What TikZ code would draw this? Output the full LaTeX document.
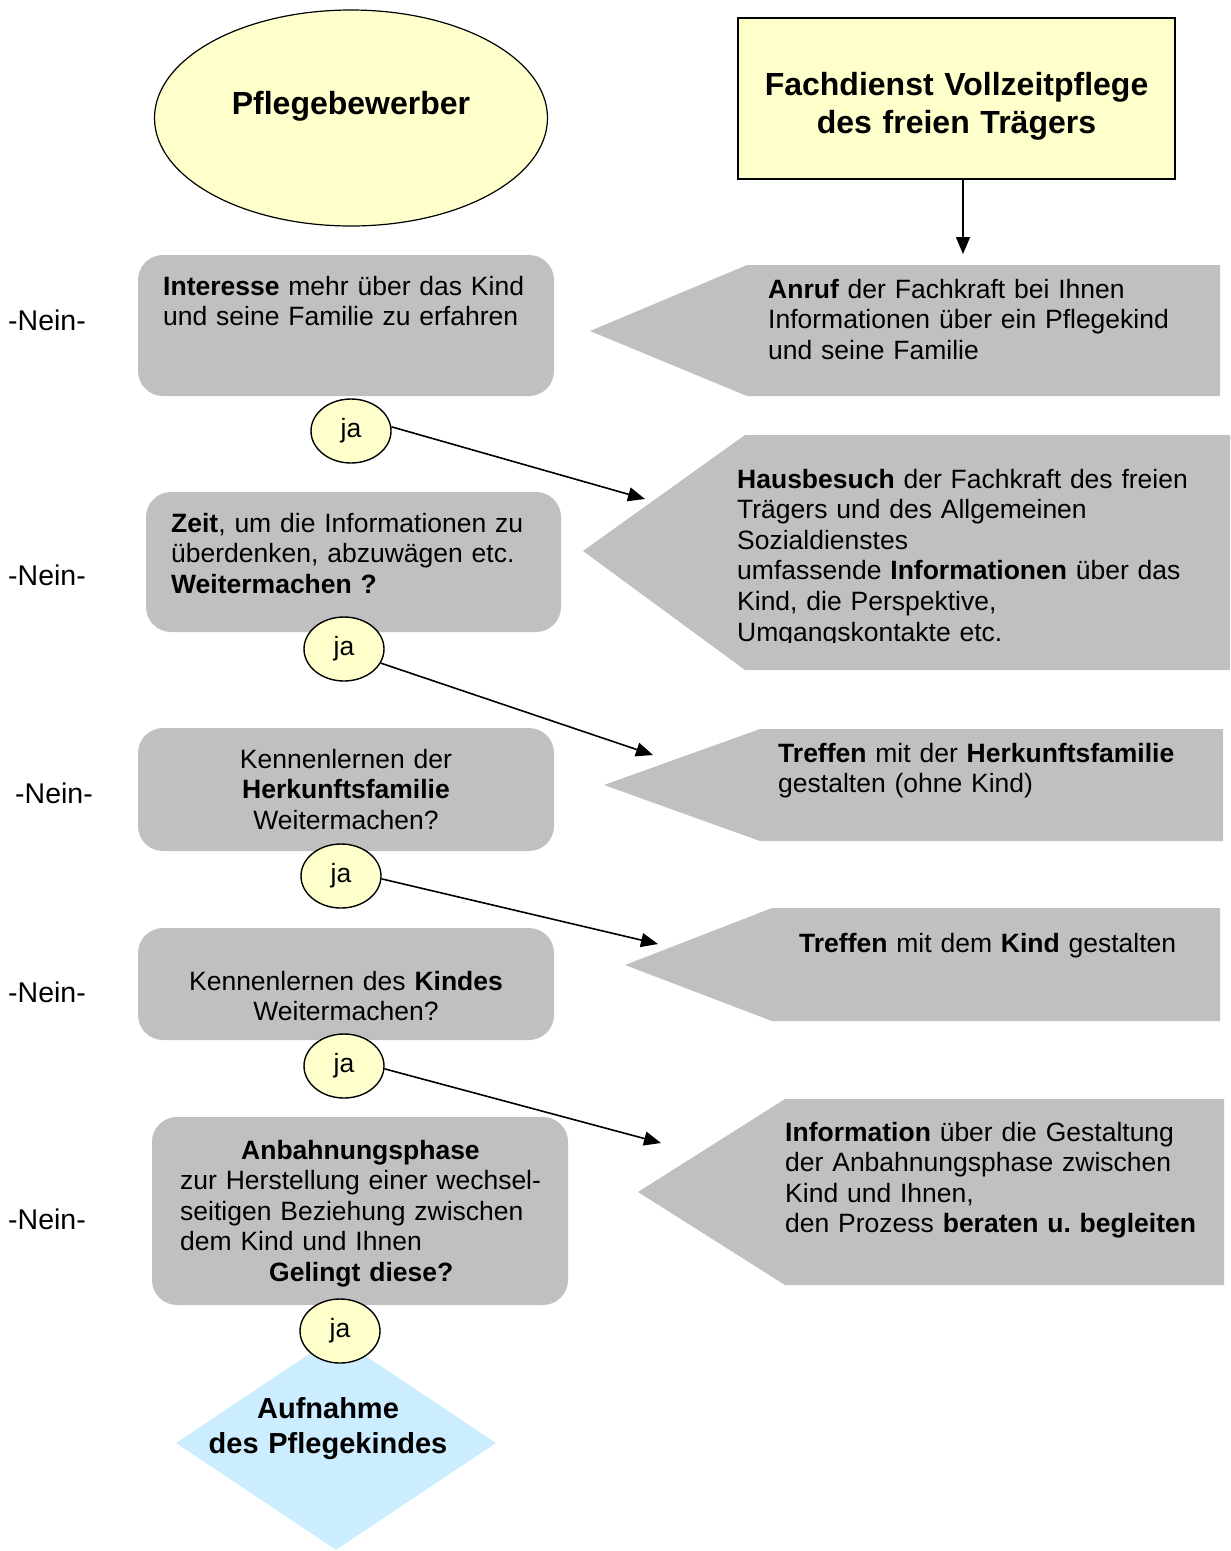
\documentclass[tikz,border=0pt]{standalone}
\usepackage{fontspec}
\setmainfont{Liberation Sans}
\usetikzlibrary{arrows.meta,shapes.geometric}
\definecolor{boxgray}{HTML}{C0C0C0}
\definecolor{paleyellow}{HTML}{FFFFCC}
\definecolor{paleblue}{HTML}{CCECFF}
\begin{document}
\frenchspacing
\begin{tikzpicture}[x=1pt,y=-1pt,
  txt/.style={font=\fontsize{26.5}{30.6}\selectfont, inner sep=0pt, align=left, anchor=base west, text width=470pt},
  ctxt/.style={font=\fontsize{26.5}{30.6}\selectfont, inner sep=0pt, align=center, anchor=base, text width=400pt},
  lbox/.style={fill=boxgray, rounded corners=25pt, draw=none, inner sep=0pt},
  jaell/.style={ellipse, draw=black, line width=1.4pt, fill=paleyellow, minimum width=80pt, minimum height=64pt, inner sep=0pt, font=\fontsize{26.5}{30.6}\selectfont},
  arr/.style={line width=1.6pt, -{Triangle[length=17pt,width=14pt]}},
  pent/.style={fill=boxgray, draw=none},
  nein/.style={font=\fontsize{28.5}{32}\selectfont, inner sep=0pt, anchor=base west},
]
\useasboundingbox (0,0) rectangle (1231,1551);

% header
\node[ellipse, draw=black, line width=1.2pt, fill=paleyellow, minimum width=393pt, minimum height=216pt, inner sep=0pt] (pb) at (351,118) {};
\node[font=\fontsize{32}{38}\selectfont\bfseries, inner sep=0pt, anchor=base] (pbt) at (351,114.5) {Pflegebewerber};
\node[draw=black, line width=1.2pt, fill=paleyellow, minimum width=437pt, minimum height=161pt, inner sep=0pt] (fd) at (956.5,98.5) {};
\node[font=\fontsize{32}{38}\selectfont\bfseries, inner sep=0pt, anchor=base, align=center, text width=430pt] (fdt) at (956.5,95.5) {Fachdienst Vollzeitpflege\\des freien Trägers};
\coordinate (topend) at (963,254);
\draw[arr] (fd.south -| topend) -- (topend);

% right pentagons
\fill[pent] (590,331) -- (747,265) -- (1220,265) -- (1220,396) -- (747,396) -- cycle;
\node[txt] (p1) at (768,298) {\textbf{Anruf} der Fachkraft bei Ihnen\\Informationen über ein Pflegekind\\und seine Familie};

\fill[pent] (583,551) -- (745,435) -- (1230,435) -- (1230,670) -- (745,670) -- cycle;
\begin{scope}
\clip (700,440) rectangle (1230,642);
\node[txt] (p2) at (737,488) {\textbf{Hausbesuch} der Fachkraft des freien\\Trägers und des Allgemeinen\\Sozialdienstes\\umfassende \textbf{Informationen} über das\\Kind, die Perspektive,\\Umgangskontakte etc.};
\end{scope}

\fill[pent] (604,785) -- (760,729) -- (1223,729) -- (1223,841) -- (760,841) -- cycle;
\node[txt] (p3) at (778,762) {\textbf{Treffen} mit der \textbf{Herkunftsfamilie}\\gestalten (ohne Kind)};

\fill[pent] (625,965) -- (772,908) -- (1220,908) -- (1220,1021) -- (772,1021) -- cycle;
\node[txt] (p4) at (799,952) {\textbf{Treffen} mit dem \textbf{Kind} gestalten};

\fill[pent] (638,1192) -- (785,1099) -- (1224,1099) -- (1224,1285) -- (785,1285) -- cycle;
\node[txt] (p5) at (785,1141) {\textbf{Information} über die Gestaltung\\der Anbahnungsphase zwischen\\Kind und Ihnen,\\den Prozess \textbf{beraten u. begleiten}};

% left boxes
\node[lbox, minimum width=416pt, minimum height=141pt] (b1) at (346,325.5) {};
\node[txt] (b1t) at (163,295) {\textbf{Interesse} mehr über das Kind\\und seine Familie zu erfahren};

\node[lbox, minimum width=415pt, minimum height=140pt] (b2) at (353.5,562) {};
\node[txt] (b2t) at (171,532) {\textbf{Zeit}, um die Informationen zu\\überdenken, abzuwägen etc.\\\textbf{Weitermachen ?}};

\node[lbox, minimum width=416pt, minimum height=123pt] (b3) at (346,789.5) {};
\node[ctxt] (b3t) at (346,768) {Kennenlernen der\\\textbf{Herkunftsfamilie}\\Weitermachen?};

\node[lbox, minimum width=416pt, minimum height=112pt] (b4) at (346,984) {};
\node[ctxt] (b4t) at (346,990) {Kennenlernen des \textbf{Kindes}\\Weitermachen?};

\node[lbox, minimum width=416pt, minimum height=188pt] (b5) at (360,1211) {};
\node[txt] (b5t) at (180,1159) {\hspace*{61pt}\textbf{Anbahnungsphase}\\zur Herstellung einer wechsel-\\seitigen Beziehung zwischen\\dem Kind und Ihnen\\\hspace*{89pt}\textbf{Gelingt diese?}};

% diamond
\node[diamond, fill=paleblue, minimum width=320pt, minimum height=214pt, inner sep=0pt] (dia) at (336,1443) {};
\node[font=\fontsize{29}{35}\selectfont\bfseries, inner sep=0pt, anchor=base, align=center, text width=300pt] (diat) at (328,1418.5) {Aufnahme\\des Pflegekindes};

% ja ellipses
\node[jaell] (ja1) at (351,431) {ja};
\node[jaell] (ja2) at (344,649) {ja};
\node[jaell] (ja3) at (341,876) {ja};
\node[jaell] (ja4) at (344,1066) {ja};
\node[jaell] (ja5) at (340,1331) {ja};

% nein labels
\node[nein] (n1) at (8,330) {-Nein-};
\node[nein] (n2) at (8,585) {-Nein-};
\node[nein] (n3) at (15,803) {-Nein-};
\node[nein] (n4) at (8,1002) {-Nein-};
\node[nein] (n5) at (8,1229) {-Nein-};

% connectors
\coordinate (e1) at (645,499);
\coordinate (e2) at (653,755);
\coordinate (e3) at (658,944);
\coordinate (e4) at (661,1143);
\draw[arr] (ja1.6) -- (e1);
\draw[arr] (ja2.-21) -- (e2);
\draw[arr] (ja3.-4) -- (e3);
\draw[arr] (ja4.-4) -- (e4);
\end{tikzpicture}
\end{document}
